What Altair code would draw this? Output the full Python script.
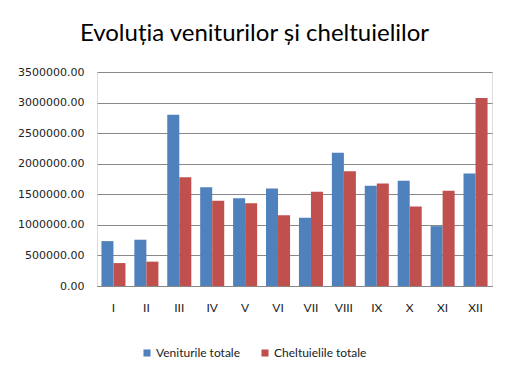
import altair as alt
import pandas as pd

months = ["I", "II", "III", "IV", "V", "VI", "VII", "VIII", "IX", "X", "XI", "XII"]
venituri = [734000, 757000, 2800000, 1616000, 1437000, 1595000, 1117000, 2178000, 1639000, 1720000, 979000, 1840000]
cheltuieli = [375000, 398000, 1779000, 1394000, 1355000, 1159000, 1541000, 1877000, 1676000, 1301000, 1557000, 3075000]
series = ["Veniturile totale", "Cheltuielile totale"]
colors = ["#4F81BD", "#C0504D"]

rows = []
for i, m in enumerate(months):
    rows.append({"Luna": m, "Serie": series[0], "Valoare": venituri[i]})
    rows.append({"Luna": m, "Serie": series[1], "Valoare": cheltuieli[i]})
df = pd.DataFrame(rows)

chart = alt.Chart(df).mark_bar().encode(
    x=alt.X("Luna:N", sort=months, title=None,
            scale=alt.Scale(paddingInner=0.27, paddingOuter=0.135),
            axis=alt.Axis(labelAngle=0, labelFont="Lato", labelFontSize=12, labelColor="#222",
                          labelPadding=16, ticks=False, domainColor="#888", domainWidth=1)),
    xOffset=alt.XOffset("Serie:N", sort=series),
    y=alt.Y("Valoare:Q", title=None, scale=alt.Scale(domain=[0, 3500000], nice=False),
            axis=alt.Axis(values=[0, 500000, 1000000, 1500000, 2000000, 2500000, 3000000, 3500000],
                          format=".2f", labelFont="DejaVu Sans", labelFontSize=11, labelColor="#222",
                          labelPadding=13, ticks=False, domain=False,
                          gridColor="#888", gridWidth=1)),
    color=alt.Color("Serie:N", sort=series, scale=alt.Scale(domain=series, range=colors),
                    legend=alt.Legend(title=None, orient="none", direction="horizontal",
                                      legendX=44, legendY=275, symbolType="square", symbolSize=50,
                                      symbolStrokeWidth=0, labelFont="Lato", labelFontSize=12,
                                      labelColor="#222", columnPadding=18, labelOffset=3)),
).properties(
    width=395, height=214,
    title=alt.TitleParams("Evoluția veniturilor și cheltuielilor", font="Lato", fontSize=24,
                          fontWeight="normal", color="#000", anchor="middle", dx=-40, offset=20),
    padding={"left": 89, "top": 64, "right": 10, "bottom": 89},
    autosize=alt.AutoSizeParams(type="none"),
).configure_view(stroke=None).configure(background="#ffffff")

chart.save("out.html", embed_options={"renderer": "svg", "actions": False})
